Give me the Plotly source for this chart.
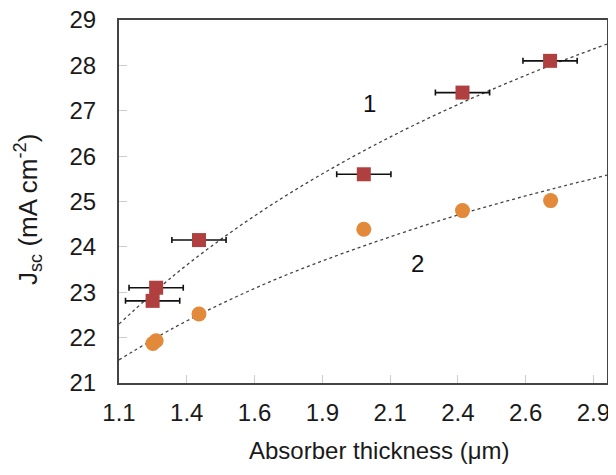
import plotly.graph_objects as go

# Series 1 (squares, with x error bars)
s1_x = [1.237, 1.224, 1.395, 2.003, 2.367, 2.690]
s1_y = [23.10, 22.81, 24.15, 25.60, 27.40, 28.10]
s1_xerr = [0.10, 0.10, 0.10, 0.10, 0.10, 0.10]

# Series 2 (circles)
s2_x = [1.225, 1.237, 1.395, 2.003, 2.367, 2.692]
s2_y = [21.87, 21.93, 22.52, 24.39, 24.80, 25.02]

# Fitted trend curves
fit_x = [1.1, 1.3, 1.5, 1.7, 1.9, 2.1, 2.3, 2.5, 2.7, 2.9]
fit1_y = [22.30, 23.36, 24.27, 25.07, 25.78, 26.42, 27.00, 27.53, 28.02, 28.47]
fit2_y = [21.51, 22.21, 22.81, 23.34, 23.80, 24.22, 24.61, 24.96, 25.28, 25.58]

# Axis ticks
x_tickvals = [1.1, 1.35, 1.6, 1.85, 2.1, 2.35, 2.6, 2.85]
x_ticktext = ["1.1", "1.4", "1.6", "1.9", "2.1", "2.4", "2.6", "2.9"]
y_tickvals = [21, 22, 23, 24, 25, 26, 27, 28, 29]

# Curve labels
label_text = ["1", "2"]
label_x = [2.025, 2.202]
label_y = [27.17, 23.64]

x_title = "Absorber thickness (μm)"
y_title = "J<sub>sc</sub> (mA cm<sup>-2</sup>)"

FONT = "Liberation Sans, Arial, sans-serif"

fig = go.Figure()

fig.add_trace(go.Scatter(x=fit_x, y=fit1_y, mode="lines", line=dict(color="#444444", width=1.3, dash="3px,3px", shape="spline"), hoverinfo="skip"))
fig.add_trace(go.Scatter(x=fit_x, y=fit2_y, mode="lines", line=dict(color="#444444", width=1.3, dash="3px,3px", shape="spline"), hoverinfo="skip"))

fig.add_trace(go.Scatter(
    x=s1_x, y=s1_y, mode="markers",
    marker=dict(symbol="square", size=14, color="#B0403F"),
    error_x=dict(type="data", array=s1_xerr, visible=True, color="#111111", thickness=1.6, width=3),
))
fig.add_trace(go.Scatter(
    x=s2_x, y=s2_y, mode="markers",
    marker=dict(symbol="circle", size=15, color="#E3893A"),
))

for t, xx, yy in zip(label_text, label_x, label_y):
    fig.add_annotation(x=xx, y=yy, text=t, showarrow=False, font=dict(family=FONT, size=24, color="#111111"))

fig.add_annotation(xref="paper", yref="paper", x=0.534, y=0, yshift=-67, yanchor="middle", xanchor="center",
                   text=x_title, showarrow=False, font=dict(family=FONT, size=24, color="#1a1a1a"))
fig.add_annotation(xref="paper", yref="paper", x=0, xshift=-91, y=0.4766, xanchor="center", yanchor="middle",
                   textangle=-90, text=y_title, showarrow=False, font=dict(family=FONT, size=26, color="#1a1a1a"))

fig.update_layout(
    width=608, height=467,
    margin=dict(l=111, r=9, t=12, b=92),
    plot_bgcolor="white", paper_bgcolor="white",
    showlegend=False,
    font=dict(family=FONT, size=24, color="#1a1a1a"),
)
fig.update_xaxes(
    range=[1.1, 2.9], tickvals=x_tickvals, ticktext=x_ticktext,
    ticks="inside", ticklen=8, tickcolor="#cccccc", tickwidth=1,
    showline=True, linecolor="#444444", linewidth=2, mirror=True,
    showgrid=False, zeroline=False, automargin=False,
    tickfont=dict(size=24), ticklabelstandoff=7, ticklabeloverflow="allow",
)
fig.update_yaxes(
    range=[21, 29], tickvals=y_tickvals,
    ticks="inside", ticklen=8, tickcolor="#cccccc", tickwidth=1,
    showline=True, linecolor="#444444", linewidth=2, mirror=True,
    showgrid=False, zeroline=False, automargin=False,
    tickfont=dict(size=24), ticklabelstandoff=16, ticklabeloverflow="allow",
)

fig.write_html("out.html")
